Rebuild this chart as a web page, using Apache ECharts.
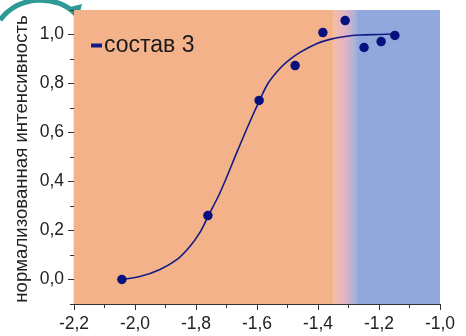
<!DOCTYPE html>
<html>
<head>
<meta charset="utf-8">
<script src="https://cdn.jsdelivr.net/npm/echarts@6/dist/echarts.min.js"></script>
<style>
    html, body { margin: 0; padding: 0; background: #fff; }
    #chart { width: 466px; height: 336px; }
</style>
</head>
<body>
<div id="chart"></div>
<script>
// measured points (lg aNa, normalized intensity)
const pointX = [-2.043, -1.761, -1.593, -1.475, -1.384, -1.311, -1.249, -1.193, -1.148];
const pointY = [0.0, 0.261, 0.731, 0.873, 1.008, 1.057, 0.947, 0.971, 0.996];

// fitted curve
const fitX = [-2.045, -1.984, -1.918, -1.862, -1.820, -1.787, -1.761, -1.721, -1.662, -1.623,
              -1.593, -1.564, -1.525, -1.492, -1.459, -1.403, -1.361, -1.311, -1.262, -1.197, -1.148];
const fitY = [0.0, 0.012, 0.041, 0.082, 0.135, 0.192, 0.257, 0.355, 0.531, 0.645,
              0.727, 0.800, 0.861, 0.898, 0.927, 0.963, 0.980, 0.992, 0.998, 1.0, 1.002];

// background regions along x
const orangeEnd = -1.351;
const blueStart = -1.275;

const yMajor = [0, 0.2, 0.4, 0.6, 0.8, 1.0];
const yMinor = [-0.1, 0.1, 0.3, 0.5, 0.7, 0.9, 1.1];

const fmt = v => v.toFixed(1).replace('.', ',');

let chart = echarts.init(document.getElementById('chart'));

let option = {
    animation: false,
    textStyle: { fontFamily: 'Liberation Sans, Arial, sans-serif' },
    grid: { left: 74, right: 26, top: 10, bottom: 32 },
    legend: {
        left: 86,
        top: 29,
        icon: 'rect',
        itemWidth: 11,
        itemHeight: 4,
        itemGap: 0,
        textStyle: { fontSize: 23, color: '#1a1a1a', padding: [0, 0, 0, -3] },
        data: ['состав 3']
    },
    xAxis: {
        type: 'value',
        min: -2.2,
        max: -1.0,
        interval: 0.2,
        axisLine: { onZero: false, lineStyle: { color: '#333', width: 1.2 } },
        axisTick: { length: 6, lineStyle: { color: '#333' } },
        minorTick: { show: true, splitNumber: 2, length: 4, lineStyle: { color: '#333' } },
        splitLine: { show: false },
        axisLabel: { fontSize: 17.5, color: '#222', margin: 11, formatter: fmt }
    },
    yAxis: [{
        type: 'value',
        min: -0.1,
        max: 1.1,
        interval: 0.1,
        axisLine: { onZero: false, lineStyle: { color: '#333', width: 1.2 } },
        axisTick: { length: 6, customValues: yMajor, lineStyle: { color: '#333' } },
        splitLine: { show: false },
        axisLabel: { fontSize: 17.5, color: '#222', margin: 10, customValues: yMajor, formatter: fmt }
    }, {
        type: 'value',
        min: -0.1,
        max: 1.1,
        interval: 0.1,
        position: 'left',
        axisLine: { show: false },
        axisTick: { length: 4, customValues: yMinor, lineStyle: { color: '#333' } },
        axisLabel: { show: false },
        splitLine: { show: false }
    }],
    series: [{
        name: 'bg',
        type: 'line',
        data: [],
        markArea: {
            silent: true,
            data: [
                [{ xAxis: -2.2, itemStyle: { color: '#F4B28A' } }, { xAxis: orangeEnd }],
                [{
                    xAxis: orangeEnd,
                    itemStyle: {
                        color: new echarts.graphic.LinearGradient(0, 0, 1, 0, [
                            { offset: 0, color: '#F6BDA6' },
                            { offset: 0.5, color: '#E2B4C4' },
                            { offset: 1, color: '#A9B0DA' }
                        ])
                    }
                }, { xAxis: blueStart }],
                [{ xAxis: blueStart, itemStyle: { color: '#91A8DC' } }, { xAxis: -1.0 }]
            ]
        }
    }, {
        name: 'состав 3',
        type: 'line',
        smooth: 0.35,
        showSymbol: false,
        data: fitX.map((x, i) => [x, fitY[i]]),
        itemStyle: { color: '#111C86' },
        lineStyle: { color: '#111C86', width: 1.6 },
        z: 3
    }, {
        name: 'points',
        type: 'scatter',
        symbolSize: 9.5,
        data: pointX.map((x, i) => [x, pointY[i]]),
        itemStyle: { color: '#06107F', opacity: 1 },
        z: 4
    }],
    graphic: [{
        type: 'text',
        x: 22,
        y: 159,
        rotation: Math.PI / 2,
        style: {
            text: 'нормализованная интенсивность',
            fontSize: 18.6,
            fill: '#222',
            fontFamily: 'Liberation Sans',
            align: 'center',
            verticalAlign: 'middle'
        }
    }, {
        type: 'text',
        left: 379,
        top: 274,
        style: {
            text: '{r|lg }{i|a}{s|Na}',
            rich: {
                r: { fontSize: 21, fill: '#1a1a1a', fontFamily: 'Liberation Sans' },
                i: { fontSize: 21, fill: '#1a1a1a', fontStyle: 'italic', fontFamily: 'Liberation Sans' },
                s: { fontSize: 15, fill: '#1a1a1a', fontStyle: 'italic', fontFamily: 'Liberation Sans', padding: [9, 0, 0, 0] }
            }
        }
    }, {
        type: 'bezierCurve',
        shape: { x1: 0, y1: 20, cpx1: 20, cpy1: -6, cpx2: 55, cpy2: -4, x2: 74, y2: 12 },
        style: { stroke: '#2E9A95', lineWidth: 5, fill: null }
    }, {
        type: 'polygon',
        shape: { points: [[66, 8], [82, 4], [78, 20]] },
        style: { fill: '#2E9A95' }
    }]
};

chart.setOption(option);
</script>
</body>
</html>
